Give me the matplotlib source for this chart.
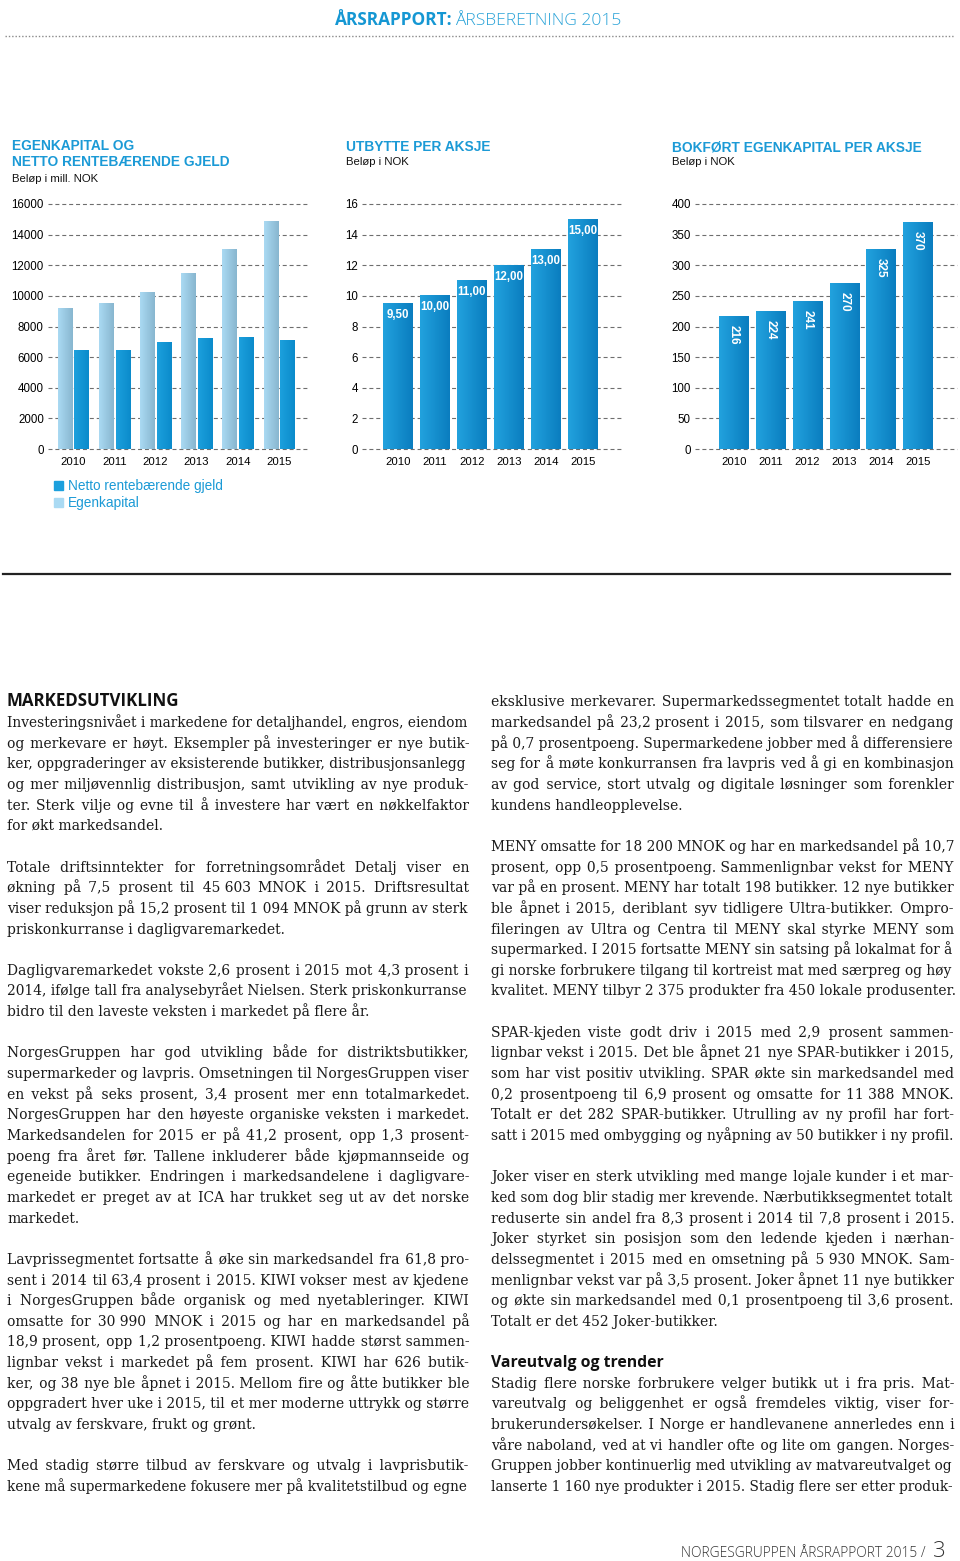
import numpy as np
import matplotlib
matplotlib.use('Agg')
import matplotlib.pyplot as plt
from matplotlib.colors import LinearSegmentedColormap
from matplotlib.patches import Patch
from matplotlib.lines import Line2D

W, H = 960, 1561

# chart data
years = ['2010', '2011', '2012', '2013', '2014', '2015']
egenkapital = [9160, 9510, 10230, 11460, 13020, 14840]
netto_gjeld = [6420, 6420, 6930, 7190, 7300, 7100]
utbytte = [9.50, 10.00, 11.00, 12.00, 13.00, 15.00]
bokfort_ek = [216, 224, 241, 270, 325, 370]

yticks1 = list(range(0, 16001, 2000))
yticks2 = list(range(0, 17, 2))
yticks3 = list(range(0, 401, 50))

series_names = ['Netto rentebærende gjeld', 'Egenkapital']

# body text, line by line as in the page
left_paras = [
    ["Investeringsnivået i markedene for detaljhandel, engros, eiendom",
     "og merkevare er høyt. Eksempler på investeringer er nye butik-",
     "ker, oppgraderinger av eksisterende butikker, distribusjonsanlegg",
     "og mer miljøvennlig distribusjon, samt utvikling av nye produk-",
     "ter. Sterk vilje og evne til å investere har vært en nøkkelfaktor",
     "for økt markedsandel."],
    ["Totale driftsinntekter for forretningsområdet Detalj viser en",
     "økning på 7,5 prosent til 45\u00a0603 MNOK i 2015. Driftsresultat",
     "viser reduksjon på 15,2 prosent til 1\u00a0094 MNOK på grunn av sterk",
     "priskonkurranse i dagligvaremarkedet."],
    ["Dagligvaremarkedet vokste 2,6 prosent i 2015 mot 4,3 prosent i",
     "2014, ifølge tall fra analysebyrået Nielsen. Sterk priskonkurranse",
     "bidro til den laveste veksten i markedet på flere år."],
    ["NorgesGruppen har god utvikling både for distriktsbutikker,",
     "supermarkeder og lavpris. Omsetningen til NorgesGruppen viser",
     "en vekst på seks prosent, 3,4 prosent mer enn totalmarkedet.",
     "NorgesGruppen har den høyeste organiske veksten i markedet.",
     "Markedsandelen for 2015 er på 41,2 prosent, opp 1,3 prosent-",
     "poeng fra året før. Tallene inkluderer både kjøpmannseide og",
     "egeneide butikker. Endringen i markedsandelene i dagligvare-",
     "markedet er preget av at ICA har trukket seg ut av det norske",
     "markedet."],
    ["Lavprissegmentet fortsatte å øke sin markedsandel fra 61,8 pro-",
     "sent i 2014 til 63,4 prosent i 2015. KIWI vokser mest av kjedene",
     "i NorgesGruppen både organisk og med nyetableringer. KIWI",
     "omsatte for 30\u00a0990 MNOK i 2015 og har en markedsandel på",
     "18,9 prosent, opp 1,2 prosentpoeng. KIWI hadde størst sammen-",
     "lignbar vekst i markedet på fem prosent. KIWI har 626 butik-",
     "ker, og 38 nye ble åpnet i 2015. Mellom fire og åtte butikker ble",
     "oppgradert hver uke i 2015, til et mer moderne uttrykk og større",
     "utvalg av ferskvare, frukt og grønt."],
    ["Med stadig større tilbud av ferskvare og utvalg i lavprisbutik-",
     "kene må supermarkedene fokusere mer på kvalitetstilbud og egne"],
]
right_paras = [
    ["eksklusive merkevarer. Supermarkedssegmentet totalt hadde en",
     "markedsandel på 23,2 prosent i 2015, som tilsvarer en nedgang",
     "på 0,7 prosentpoeng. Supermarkedene jobber med å differensiere",
     "seg for å møte konkurransen fra lavpris ved å gi en kombinasjon",
     "av god service, stort utvalg og digitale løsninger som forenkler",
     "kundens handleopplevelse."],
    ["MENY omsatte for 18\u00a0200 MNOK og har en markedsandel på 10,7",
     "prosent, opp 0,5 prosentpoeng. Sammenlignbar vekst for MENY",
     "var på en prosent. MENY har totalt 198 butikker. 12 nye butikker",
     "ble åpnet i 2015, deriblant syv tidligere Ultra-butikker. Ompro-",
     "fileringen av Ultra og Centra til MENY skal styrke MENY som",
     "supermarked. I 2015 fortsatte MENY sin satsing på lokalmat for å",
     "gi norske forbrukere tilgang til kortreist mat med særpreg og høy",
     "kvalitet. MENY tilbyr 2\u00a0375 produkter fra 450 lokale produsenter."],
    ["SPAR-kjeden viste godt driv i 2015 med 2,9 prosent sammen-",
     "lignbar vekst i 2015. Det ble åpnet 21 nye SPAR-butikker i 2015,",
     "som har vist positiv utvikling. SPAR økte sin markedsandel med",
     "0,2 prosentpoeng til 6,9 prosent og omsatte for 11\u00a0388 MNOK.",
     "Totalt er det 282 SPAR-butikker. Utrulling av ny profil har fort-",
     "satt i 2015 med ombygging og nyåpning av 50 butikker i ny profil."],
    ["Joker viser en sterk utvikling med mange lojale kunder i et mar-",
     "ked som dog blir stadig mer krevende. Nærbutikksegmentet totalt",
     "reduserte sin andel fra 8,3 prosent i 2014 til 7,8 prosent i 2015.",
     "Joker styrket sin posisjon som den ledende kjeden i nærhan-",
     "delssegmentet i 2015 med en omsetning på 5\u00a0930 MNOK. Sam-",
     "menlignbar vekst var på 3,5 prosent. Joker åpnet 11 nye butikker",
     "og økte sin markedsandel med 0,1 prosentpoeng til 3,6 prosent.",
     "Totalt er det 452 Joker-butikker."],
    ["Stadig flere norske forbrukere velger butikk ut i fra pris. Mat-",
     "vareutvalg og beliggenhet er også fremdeles viktig, viser for-",
     "brukerundersøkelser. I Norge er handlevanene annerledes enn i",
     "våre naboland, ved at vi handler ofte og lite om gangen. Norges-",
     "Gruppen jobber kontinuerlig med utvikling av matvareutvalget og",
     "lanserte 1\u00a0160 nye produkter i 2015. Stadig flere ser etter produk-"],
]

BLUE = '#1b9ad6'
EK_C = ('#aadaf3', '#88b6cf')
NG_C = ('#1ca0dd', '#0b8bcb')
BAR_C = ('#22a2de', '#0a7dbf')
GRID = '#6e6e6e'

plt.rcParams['font.family'] = ['Liberation Sans', 'DejaVu Sans']

fig = plt.figure(figsize=(W / 100, H / 100), dpi=100)


def fx(x):
    return x / W


def fy(y):
    return 1 - y / H


def make_ax(left, right, x0, unit):
    ax = fig.add_axes([fx(left), fy(449), (right - left) / W, (449 - 204) / H])
    ax.set_xlim((left - x0) / unit, (right - x0) / unit)
    return ax


def shade(ax, bars, colors):
    cmap = LinearSegmentedColormap.from_list('g', list(colors))
    grad = np.linspace(0, 1, 64).reshape(1, -1)
    for b in bars:
        x, w, h = b.get_x(), b.get_width(), b.get_height()
        ax.imshow(grad, cmap=cmap, extent=(x, x + w, 0, h), aspect='auto',
                  interpolation='bilinear', zorder=2)
        b.set_facecolor(colors[0])


def style(ax, yt):
    xl = ax.get_xlim()
    ax.hlines(yt, xl[0], xl[1], colors=GRID, linestyles=(0, (3.6, 2.6)),
              lw=0.8, zorder=0, clip_on=False)
    ax.set_xlim(xl)
    ax.set_ylim(yt[0], yt[-1])
    ax.set_yticks(yt)
    ax.set_xticks(range(len(years)))
    ax.set_xticklabels(years)
    for s in ax.spines.values():
        s.set_visible(False)
    ax.tick_params(axis='y', length=0, labelsize=8.3, pad=3)
    ax.tick_params(axis='x', length=0, labelsize=8.2, pad=5.5)
    ax.patch.set_alpha(0)


# chart 1
x = np.arange(len(years))
ax1 = make_ax(48, 308, 73, 41.2)
b_ek = ax1.bar(x - 0.205, egenkapital, 0.34, zorder=2)
b_ng = ax1.bar(x + 0.205, netto_gjeld, 0.34, zorder=2)
shade(ax1, b_ek, EK_C)
shade(ax1, b_ng, NG_C)
style(ax1, yticks1)

# chart 2
ax2 = make_ax(362, 622, 398, 37)
b2 = ax2.bar(x, utbytte, 0.81, zorder=2)
shade(ax2, b2, BAR_C)
style(ax2, yticks2)
for i, v in enumerate(utbytte):
    ax2.annotate(f'{v:.2f}'.replace('.', ','), (i, v), xytext=(0, -8.3),
                 textcoords='offset points', ha='center', va='center',
                 color='white', fontweight='bold', fontsize=8.3, zorder=5)

# chart 3
ax3 = make_ax(695, 957, 734, 36.8)
b3 = ax3.bar(x, bokfort_ek, 0.80, zorder=2)
shade(ax3, b3, BAR_C)
style(ax3, yticks3)
for i, v in enumerate(bokfort_ek):
    ax3.annotate(str(v), (i, v), xytext=(0, -6), textcoords='offset points',
                 rotation=-90, ha='center', va='top', color='white',
                 fontweight='bold', fontsize=8.5, zorder=5)

# chart titles
title_kw = dict(color=BLUE, fontweight='bold', fontsize=9.9, va='baseline')
sub_kw = dict(color='#111111', fontsize=8.2, va='baseline')
fig.text(fx(12), fy(150), 'EGENKAPITAL OG', **title_kw)
fig.text(fx(12), fy(166.5), 'NETTO RENTEBÆRENDE GJELD', **title_kw)
fig.text(fx(12), fy(181.5), 'Beløp i mill. NOK', **sub_kw)
fig.text(fx(346), fy(151), 'UTBYTTE PER AKSJE', **title_kw)
fig.text(fx(346), fy(165), 'Beløp i NOK', **sub_kw)
fig.text(fx(672), fy(151), 'BOKFØRT EGENKAPITAL PER AKSJE', **title_kw)
fig.text(fx(672), fy(165), 'Beløp i NOK', **sub_kw)

# legend of chart 1
handles = [Patch(color=NG_C[0]), Patch(color=EK_C[0])]
fig.legend(handles, series_names, loc='upper left',
           bbox_to_anchor=(fx(54), fy(479)), frameon=False, fontsize=9.8,
           handlelength=0.66, handleheight=0.66, handletextpad=0.36,
           labelspacing=0.22, borderpad=0, borderaxespad=0, labelcolor=BLUE)

# page header / footer
fig.text(fx(335), fy(25), 'ÅRSRAPPORT:', family='Open Sans', fontweight='bold',
         fontsize=12.4, color='#1597d3', va='baseline')
fig.text(fx(455), fy(25), 'ÅRSBERETNING 2015', family='Open Sans',
         fontweight='light', fontsize=12.6, color='#2aa3d8', va='baseline')
fig.add_artist(Line2D([fx(5), fx(955)], [fy(36), fy(36)], color='#8a8a8a',
                      lw=1, linestyle=(0, (1, 1.4))))
fig.add_artist(Line2D([fx(3), fx(950)], [fy(574), fy(574)], color='#222222',
                      lw=1.6))
fig.text(fx(681), fy(1557), 'NORGESGRUPPEN ÅRSRAPPORT 2015 /', family='Open Sans',
         fontweight='light', fontsize=9.9, color='#333333', va='baseline')
fig.text(fx(933), fy(1557), '3', family='Open Sans', fontweight='light',
         fontsize=16, color='#333333', va='baseline')

# body text
head_kw = dict(family='Open Sans', fontweight='bold', color='#111111',
               va='baseline')
fig.text(fx(7), fy(706), 'MARKEDSUTVIKLING', fontsize=12.2, **head_kw)

BASE = 727
LEAD = 20.65
fig.text(fx(491), fy(round(BASE + 31 * LEAD)), 'Vareutvalg og trender',
         fontsize=11.3, **head_kw)

body_kw = dict(family='DejaVu Serif', fontsize=10.0, color='#1a1a1a',
               va='baseline')
renderer = fig.canvas.get_renderer()

probe = fig.text(0, 0, 'xx', **body_kw)
w_plain = probe.get_window_extent(renderer).width
probe.set_text('x\u200ax')
HAIR = probe.get_window_extent(renderer).width - w_plain
probe.remove()
if HAIR <= 0.3:
    HAIR = None


def put_line(line, x0, x1, y, justify):
    t = fig.text(fx(x0), fy(round(y)), line, **body_kw)
    w = t.get_window_extent(renderer).width
    if w > x1 - x0:
        t.set_fontsize(body_kw['fontsize'] * (x1 - x0) / w)
        return
    words = line.split(' ')
    if not justify or len(words) < 2 or HAIR is None:
        return
    # widen the gaps with hair spaces, spread evenly over the line
    n = len(words) - 1
    k_total = int(round((x1 - x0 - w) / HAIR))
    out = words[0]
    for i, wd in enumerate(words[1:], 1):
        k = round(k_total * i / n) - round(k_total * (i - 1) / n)
        out += ' ' + '\u200a' * k + wd
    t.set_text(out)


def put_column(paras, starts, x0, x1, last_open):
    for k, (para, i0) in enumerate(zip(paras, starts)):
        for j, line in enumerate(para):
            last = j == len(para) - 1
            just = (not last) or (last_open and k == len(paras) - 1)
            put_line(line, x0, x1, BASE + (i0 + j) * LEAD, just)


put_column(left_paras, [0, 7, 12, 16, 26, 36], 7, 469, True)
put_column(right_paras, [-1, 6, 15, 22, 32], 491, 954, True)

fig.savefig('out.png', dpi=100)
